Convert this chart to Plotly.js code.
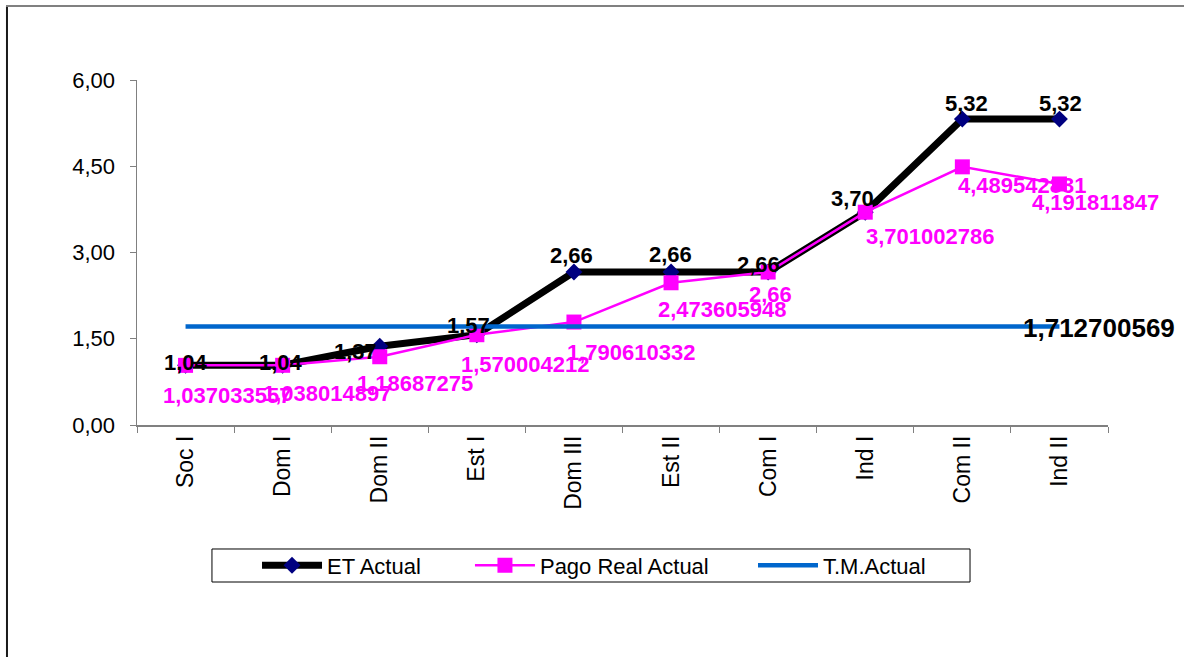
<!DOCTYPE html>
<html>
<head>
<meta charset="utf-8">
<script src="https://cdn.plot.ly/plotly-3.0.1.min.js"></script>
<style>html,body{margin:0;padding:0;background:#fff;}#chart{width:1184px;height:657px;}</style>
</head>
<body>
<div id="chart"></div>
<script>
// ---- data ----
const categories = ["Soc I","Dom I","Dom II","Est I","Dom III","Est II","Com I","Ind I","Com II","Ind II"];
const etActual = [1.04, 1.04, 1.37, 1.57, 2.66, 2.66, 2.66, 3.70, 5.32, 5.32];
const pagoRealActual = [1.037033557, 1.038014897, 1.18687275, 1.570004212, 1.790610332, 2.473605948, 2.66, 3.701002786, 4.489542831, 4.191811847];
const tmActualValue = 1.712700569;
const seriesNames = ["ET Actual", "Pago Real Actual", "T.M.Actual"];

// ---- label placement (pixel offsets, style only) ----
const etLabelOffset = [[0,-3],[-2,-3],[-24,5],[-8,-9],[-2,-17],[-1,-18],[-10,-8],[-13,-14],[4,-16],[1,-16]];
const pagoLabelOffset = [[41,30],[44,28],[35,27],[48,30],[57,30],[51,27],[2,22],[65,24],[60,19],[36,19]];
const tmLabelOffset = [40,1];
const legendX = [0.1236, 0.3429, 0.6344];

const FONT = "Liberation Sans, Arial, sans-serif";
const comma = v => String(v).replace('.', ',');
const fmt2 = v => v.toFixed(2).replace('.', ',');

const tmActual = categories.map(() => tmActualValue);

const traces = [
  {x: categories, y: etActual, name: seriesNames[0], type: 'scatter', mode: 'lines+markers', legend: 'legend',
   line: {color: '#000000', width: 7}, marker: {symbol: 'diamond', size: 13, color: '#000080'}},
  {x: categories, y: pagoRealActual, name: seriesNames[1], type: 'scatter', mode: 'lines+markers', legend: 'legend2',
   line: {color: '#FF00FF', width: 2.5}, marker: {symbol: 'square', size: 15, color: '#FF00FF'}},
  {x: categories, y: tmActual, name: seriesNames[2], type: 'scatter', mode: 'lines', legend: 'legend3',
   line: {color: '#0066CC', width: 4.5}}
];

const annotations = [];
categories.forEach((c, i) => {
  annotations.push({x: c, y: etActual[i], text: fmt2(etActual[i]), showarrow: false,
    xanchor: 'center', yanchor: 'middle', xshift: etLabelOffset[i][0], yshift: -etLabelOffset[i][1],
    font: {family: FONT, size: 22, color: '#000000', weight: 'bold'}});
});
categories.forEach((c, i) => {
  annotations.push({x: c, y: pagoRealActual[i], text: comma(pagoRealActual[i]), showarrow: false,
    xanchor: 'center', yanchor: 'middle', xshift: pagoLabelOffset[i][0], yshift: -pagoLabelOffset[i][1],
    font: {family: FONT, size: 22, color: '#FF00FF', weight: 'bold'}});
});
const last = categories.length - 1;
annotations.push({x: categories[last], y: tmActual[last], text: comma(tmActualValue), showarrow: false,
  xanchor: 'center', yanchor: 'middle', xshift: tmLabelOffset[0], yshift: -tmLabelOffset[1],
  font: {family: FONT, size: 26, color: '#000000', weight: 'bold'}});

const legendBase = {orientation: 'h', xanchor: 'left', y: -0.4072, yanchor: 'middle',
  borderwidth: 0, bgcolor: 'rgba(0,0,0,0)', itemwidth: 60,
  font: {family: FONT, size: 22, color: '#000000'}};

const layout = {
  width: 1184, height: 657,
  margin: {l: 137, r: 76, t: 80, b: 232},
  paper_bgcolor: '#ffffff', plot_bgcolor: '#ffffff',
  separators: ',.',
  font: {family: FONT, color: '#000000'},
  showlegend: true,
  xaxis: {type: 'category', range: [-0.5, 9.5], showgrid: false, zeroline: false,
    showline: true, linecolor: '#808080', linewidth: 1.5,
    ticks: 'outside', tickson: 'boundaries', ticklen: 6, tickcolor: '#808080',
    tickangle: -90, tickfont: {family: FONT, size: 23, color: '#000000'}},
  yaxis: {range: [0, 6], dtick: 1.5, tick0: 0, tickformat: '.2f', showgrid: false, zeroline: false,
    showline: true, linecolor: '#808080', linewidth: 1.5,
    ticks: 'outside', ticklen: 6, tickcolor: '#808080', ticklabelstandoff: 10,
    tickfont: {family: FONT, size: 22, color: '#000000'}},
  legend: Object.assign({}, legendBase, {x: legendX[0]}),
  legend2: Object.assign({}, legendBase, {x: legendX[1]}),
  legend3: Object.assign({}, legendBase, {x: legendX[2]}),
  annotations: annotations,
  shapes: [
    {type: 'rect', xref: 'paper', yref: 'paper', x0: 0.0772, x1: 0.8579, y0: -0.3594, y1: -0.4551,
     line: {color: '#000000', width: 1}, fillcolor: 'rgba(0,0,0,0)', layer: 'below'},
    {type: 'line', xref: 'paper', yref: 'paper', x0: -0.1339, x1: -0.1339, y0: 1.2145, y1: -0.69,
     line: {color: '#1a1a1a', width: 2}},
    {type: 'line', xref: 'paper', yref: 'paper', x0: -0.1349, x1: 1.09, y0: 1.2145, y1: 1.2145,
     line: {color: '#808080', width: 2}}
  ]
};

Plotly.newPlot('chart', traces, layout, {displayModeBar: false, staticPlot: true});
</script>
</body>
</html>
